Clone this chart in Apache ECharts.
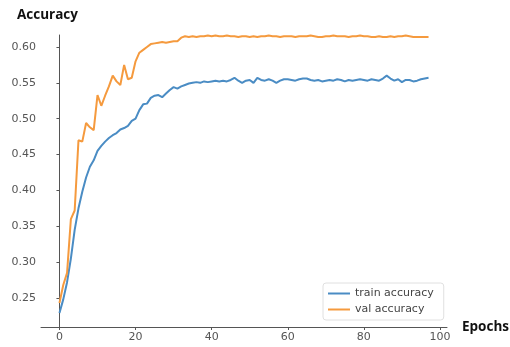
<!DOCTYPE html>
<html>
<head>
<meta charset="utf-8">
<script src="https://cdn.jsdelivr.net/npm/echarts@6/dist/echarts.min.js"></script>
<style>html,body{margin:0;padding:0;background:#fff}#c{width:510px;height:347px}</style>
</head>
<body>
<div id="c"></div>
<script>
var epochs = [];
for (var i = 0; i < 98; i++) epochs.push(i);

var trainAccuracy = [
  0.229, 0.248, 0.272, 0.305, 0.345, 0.375, 0.398, 0.418, 0.433, 0.442,
  0.455, 0.462, 0.468, 0.473, 0.477, 0.480, 0.485, 0.487, 0.490, 0.497,
  0.500, 0.512, 0.520, 0.521, 0.529, 0.532, 0.533, 0.530, 0.535, 0.540,
  0.544, 0.542, 0.545, 0.547, 0.549, 0.550, 0.551, 0.550, 0.552, 0.551,
  0.552, 0.553, 0.552, 0.553, 0.552, 0.554, 0.557, 0.553, 0.550, 0.553,
  0.554, 0.550, 0.557, 0.554, 0.553, 0.555, 0.553, 0.550, 0.553, 0.555,
  0.555, 0.554, 0.553, 0.555, 0.556, 0.556, 0.554, 0.553, 0.554, 0.552,
  0.553, 0.554, 0.553, 0.555, 0.554, 0.552, 0.554, 0.553, 0.554, 0.555,
  0.554, 0.553, 0.555, 0.554, 0.553, 0.556, 0.560, 0.556, 0.553, 0.555,
  0.551, 0.554, 0.554, 0.552, 0.553, 0.555, 0.556, 0.557
];

var valAccuracy = [
  0.243, 0.268, 0.285, 0.360, 0.372, 0.470, 0.468, 0.494, 0.488, 0.484,
  0.533, 0.518, 0.532, 0.545, 0.560, 0.552, 0.547, 0.575, 0.555, 0.557,
  0.580, 0.592, 0.596, 0.600, 0.604, 0.605, 0.606, 0.607, 0.606, 0.607,
  0.608, 0.608, 0.613, 0.615, 0.614, 0.615, 0.614, 0.615, 0.615, 0.616,
  0.615, 0.616, 0.615, 0.615, 0.616, 0.615, 0.615, 0.614, 0.615, 0.615,
  0.614, 0.615, 0.614, 0.615, 0.615, 0.616, 0.615, 0.615, 0.614, 0.615,
  0.615, 0.615, 0.614, 0.615, 0.615, 0.615, 0.616, 0.615, 0.614, 0.614,
  0.615, 0.615, 0.616, 0.615, 0.615, 0.615, 0.614, 0.615, 0.615, 0.616,
  0.615, 0.615, 0.614, 0.614, 0.615, 0.614, 0.614, 0.615, 0.614, 0.615,
  0.615, 0.616, 0.615, 0.614, 0.614, 0.614, 0.614, 0.614
];

var xTicks = [0, 20, 40, 60, 80, 100];
var yTicks = [0.25, 0.30, 0.35, 0.40, 0.45, 0.50, 0.55, 0.60];

function pairs(ys) { return ys.map(function (v, i) { return [epochs[i], v]; }); }

var chart = echarts.init(document.getElementById('c'));
var axisLineStyle = { color: '#555', width: 1 };
chart.setOption({
  animation: false,
  grid: { left: 41, right: 63, top: 35, bottom: 20 },
  graphic: [
    { type: 'text', left: 17, top: 8, style: { text: 'Accuracy', font: 'bold 13.5px "Open Sans"', fill: '#111' } },
    { type: 'text', left: 462, top: 320, style: { text: 'Epochs', font: 'bold 13.5px "Open Sans"', fill: '#111' } }
  ],
  legend: {
    orient: 'vertical',
    left: 323, top: 283,
    padding: [5, 10, 5, 5],
    itemGap: 5,
    itemWidth: 22, itemHeight: 2,
    icon: 'rect',
    borderColor: '#e0e0e0', borderWidth: 1, borderRadius: 3,
    textStyle: { fontFamily: 'DejaVu Sans', fontSize: 11, color: '#444' },
    data: ['train accuracy', 'val accuracy']
  },
  xAxis: {
    type: 'value', min: -4.85, max: 101.85,
    splitLine: { show: false },
    axisLine: { lineStyle: axisLineStyle },
    axisTick: { show: true, length: 3, customValues: xTicks, lineStyle: axisLineStyle },
    axisLabel: { customValues: xTicks, fontFamily: 'DejaVu Sans', fontSize: 11, color: '#555', margin: 5 }
  },
  yAxis: {
    type: 'value', min: 0.2095, max: 0.6167,
    splitLine: { show: false },
    axisLine: { show: true, lineStyle: axisLineStyle },
    axisTick: { show: true, length: 3, customValues: yTicks, lineStyle: axisLineStyle },
    axisLabel: { customValues: yTicks, fontFamily: 'DejaVu Sans', fontSize: 11, color: '#555', margin: 5,
      formatter: function (v) { return v.toFixed(2); } }
  },
  series: [
    { name: 'train accuracy', type: 'line', data: pairs(trainAccuracy), showSymbol: false,
      lineStyle: { color: '#4a8cc4', width: 2 }, itemStyle: { color: '#4a8cc4' } },
    { name: 'val accuracy', type: 'line', data: pairs(valAccuracy), showSymbol: false,
      lineStyle: { color: '#f59a3e', width: 2 }, itemStyle: { color: '#f59a3e' } }
  ]
});
</script>
</body>
</html>
